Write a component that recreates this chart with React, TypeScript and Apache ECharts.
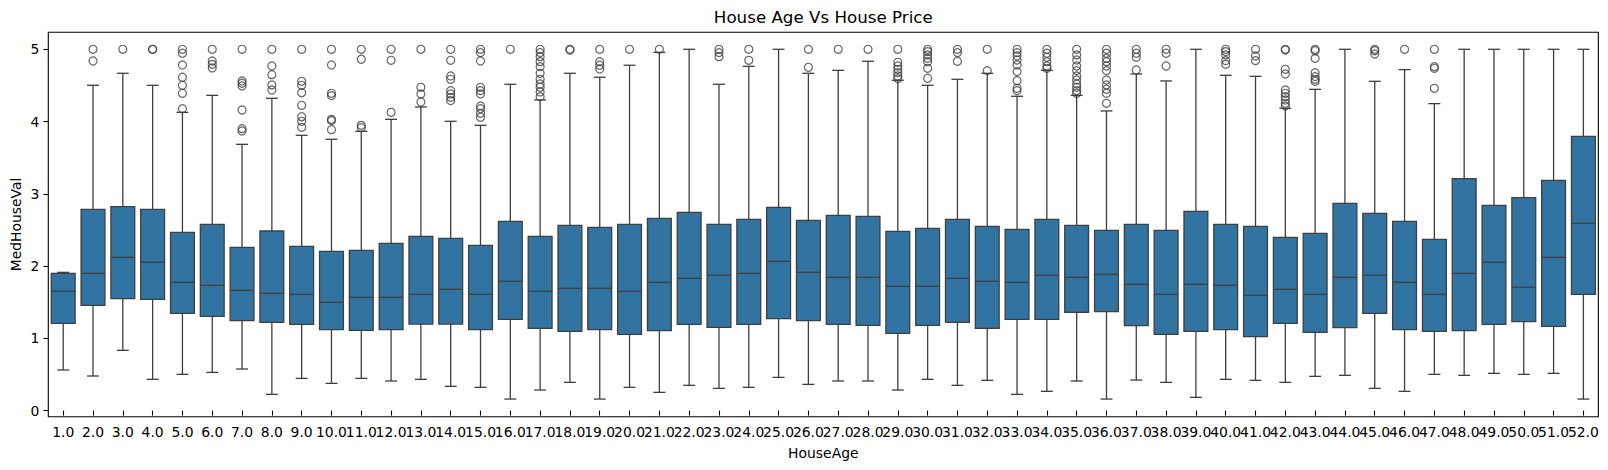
import React, { useEffect, useRef } from "react";
import * as echarts from "echarts";

const categories = Array.from({ length: 52 }, (_, i) => `${i + 1}.0`);

const lowWhisker = [0.563,0.480,0.835,0.434,0.503,0.530,0.577,0.226,0.447,0.378,0.447,0.411,0.434,0.337,0.323,0.161,0.286,0.392,0.161,0.323,0.254,0.351,0.309,0.323,0.461,0.364,0.411,0.411,0.286,0.434,0.351,0.420,0.226,0.268,0.411,0.161,0.424,0.392,0.185,0.434,0.420,0.392,0.475,0.489,0.309,0.268,0.503,0.489,0.517,0.503,0.517,0.161];
const q1 = [1.208,1.458,1.550,1.541,1.347,1.305,1.245,1.222,1.195,1.121,1.112,1.121,1.199,1.199,1.121,1.264,1.139,1.098,1.121,1.056,1.107,1.195,1.153,1.195,1.273,1.245,1.195,1.181,1.070,1.181,1.222,1.139,1.264,1.264,1.361,1.370,1.176,1.056,1.098,1.121,1.024,1.208,1.084,1.149,1.347,1.121,1.098,1.107,1.195,1.232,1.167,1.610];
const medians = [1.651,1.900,2.122,2.053,1.776,1.734,1.665,1.624,1.610,1.499,1.568,1.568,1.610,1.679,1.610,1.790,1.651,1.693,1.693,1.651,1.776,1.831,1.873,1.900,2.066,1.914,1.845,1.845,1.720,1.720,1.831,1.790,1.776,1.873,1.845,1.887,1.748,1.610,1.748,1.734,1.596,1.679,1.610,1.845,1.873,1.776,1.610,1.900,2.053,1.707,2.122,2.592];
const q3 = [1.900,2.786,2.823,2.786,2.468,2.578,2.260,2.486,2.274,2.205,2.219,2.315,2.412,2.385,2.288,2.620,2.412,2.565,2.537,2.578,2.661,2.744,2.578,2.648,2.814,2.634,2.703,2.689,2.482,2.523,2.648,2.551,2.509,2.648,2.565,2.495,2.578,2.495,2.758,2.578,2.551,2.399,2.454,2.869,2.731,2.620,2.371,3.210,2.841,2.947,3.187,3.796];
const highWhisker = [1.914,4.502,4.668,4.502,4.128,4.363,3.685,4.322,3.810,3.755,3.865,4.031,4.202,4.004,3.948,4.516,4.299,4.668,4.613,4.779,4.958,5.0,4.516,4.765,5.0,4.668,4.709,4.834,4.571,4.502,4.585,4.668,4.350,4.709,4.363,4.147,4.659,4.562,5.0,4.640,4.626,4.184,4.446,5.0,4.557,4.719,4.248,5.0,5.0,5.0,5.0,5.0];

const outliers: number[][] = [
  [],
  [5.0, 4.838],
  [5.0],
  [5.0, 5.0],
  [5.0, 4.945, 4.783, 4.613, 4.502, 4.391, 4.179],
  [5.0, 4.838, 4.792, 4.742],
  [5.0, 4.562, 4.530, 4.493, 4.160, 3.902, 3.870],
  [5.0, 4.769, 4.649, 4.507, 4.437],
  [5.0, 4.557, 4.502, 4.400, 4.225, 4.068, 4.004, 3.921],
  [5.0, 4.783, 4.391, 4.359, 4.031, 4.013, 3.888],
  [5.0, 4.862, 3.948, 3.916],
  [5.0, 4.848, 4.128],
  [5.0, 4.474, 4.382, 4.271],
  [5.0, 4.848, 4.631, 4.585, 4.428, 4.382, 4.336, 4.290],
  [5.0, 4.954, 4.838, 4.474, 4.428, 4.382, 4.216, 4.179, 4.114, 4.059],
  [5.0],
  [5.0, 4.954, 4.898, 4.829, 4.760, 4.668, 4.585, 4.520, 4.474, 4.410, 4.345],
  [5.0, 4.99],
  [5.0, 4.829, 4.779, 4.728],
  [5.0],
  [5.0],
  [],
  [5.0, 4.954, 4.898],
  [5.0, 4.848],
  [],
  [5.0, 4.751],
  [5.0],
  [5.0],
  [5.0, 4.820, 4.769, 4.723, 4.677, 4.631, 4.594],
  [5.0, 4.968, 4.922, 4.875, 4.829, 4.737, 4.599],
  [5.0, 4.954, 4.834],
  [5.0, 4.705],
  [5.0, 4.954, 4.908, 4.852, 4.783, 4.691, 4.566, 4.460, 4.428],
  [5.0, 4.945, 4.889, 4.829, 4.769, 4.737],
  [5.0, 4.922, 4.852, 4.769, 4.705, 4.631, 4.576, 4.520, 4.474, 4.428, 4.391],
  [5.0, 4.945, 4.875, 4.829, 4.769, 4.705, 4.576, 4.507, 4.447, 4.391, 4.253],
  [5.0, 4.945, 4.889, 4.714],
  [5.0, 4.945, 4.769],
  [],
  [5.0, 4.968, 4.922, 4.843, 4.792],
  [5.0, 4.908, 4.843],
  [5.0, 4.99, 4.723, 4.659, 4.437, 4.391, 4.345, 4.299, 4.253, 4.216],
  [5.0, 4.98, 4.875, 4.677, 4.622, 4.585, 4.557],
  [],
  [5.0, 4.98, 4.935],
  [5.0],
  [5.0, 4.760, 4.737, 4.460],
  [],
  [],
  [],
  [],
  [],
];

const yTicks = [0, 1, 2, 3, 4, 5];

const BOX_FILL = "#3274a1";
const LINE = "#3f3f3f";
const FONT = "DejaVu Sans";

export default function App() {
  const ref = useRef<HTMLDivElement>(null);
  useEffect(() => {
    document.body.style.margin = "0";
    if (!ref.current) return;
    const chart = echarts.init(ref.current, undefined, { renderer: "svg" });
    const boxData = categories.map((_, i) => [i, lowWhisker[i], q1[i], medians[i], q3[i], highWhisker[i]]);
    const outData: number[][] = [];
    outliers.forEach((vals, i) => vals.forEach((v) => outData.push([i, v])));

    const gridLeft = 48.3, gridTop = 32.3, gridRight = 1598.3, gridBottom = 416.7;

    chart.setOption({
      animation: false,
      grid: {
        left: gridLeft,
        top: gridTop,
        width: gridRight - gridLeft,
        height: gridBottom - gridTop,
        show: true,
        borderColor: "#000",
        borderWidth: 1.1,
        backgroundColor: "transparent",
      },
      xAxis: {
        type: "category",
        data: categories,
        boundaryGap: true,
        axisLine: { show: false },
        axisTick: { show: true, alignWithLabel: true, interval: 0, length: 4.9, lineStyle: { color: "#000", width: 1.1 } },
        axisLabel: { interval: 0, hideOverlap: false, color: "#000", fontSize: 13.9, fontFamily: FONT, margin: 8 },
        splitLine: { show: false },
      },
      yAxis: {
        type: "value",
        min: -0.083,
        max: 5.235,
        axisLine: { show: false },
        axisTick: { show: true, length: 4.9, customValues: yTicks, lineStyle: { color: "#000", width: 1.1 } },
        axisLabel: { color: "#000", fontSize: 13.9, fontFamily: FONT, margin: 9, customValues: yTicks },
        splitLine: { show: false },
      },
      graphic: [
        { type: "text", x: (gridLeft + gridRight) / 2, y: 17, style: { text: "House Age Vs House Price", fontSize: 16.7, fontFamily: FONT, fill: "#000", textAlign: "center", textVerticalAlign: "middle" } },
        { type: "text", x: (gridLeft + gridRight) / 2, y: 452.7, style: { text: "HouseAge", fontSize: 13.9, fontFamily: FONT, fill: "#000", textAlign: "center", textVerticalAlign: "middle" } },
        { type: "text", x: 16, y: (gridTop + gridBottom) / 2, rotation: Math.PI / 2, style: { text: "MedHouseVal", fontSize: 13.9, fontFamily: FONT, fill: "#000", textAlign: "center", textVerticalAlign: "middle" } },
      ],
      series: [
        {
          type: "custom",
          data: boxData,
          encode: { x: 0, y: [1, 2, 3, 4, 5] },
          z: 2,
          renderItem: (params: any, api: any) => {
            const idx = api.value(0);
            const pLow = api.coord([idx, api.value(1)]);
            const pQ1 = api.coord([idx, api.value(2)]);
            const pMed = api.coord([idx, api.value(3)]);
            const pQ3 = api.coord([idx, api.value(4)]);
            const pHigh = api.coord([idx, api.value(5)]);
            const band = api.size([1, 0])[0];
            const x = pMed[0];
            const hw = band * 0.4;
            const cw = hw / 2;
            const ls = { stroke: LINE, lineWidth: 1.3 };
            return {
              type: "group",
              children: [
                { type: "line", shape: { x1: x, y1: pLow[1], x2: x, y2: pQ1[1] }, style: ls },
                { type: "line", shape: { x1: x, y1: pQ3[1], x2: x, y2: pHigh[1] }, style: ls },
                { type: "line", shape: { x1: x - cw, y1: pLow[1], x2: x + cw, y2: pLow[1] }, style: ls },
                { type: "line", shape: { x1: x - cw, y1: pHigh[1], x2: x + cw, y2: pHigh[1] }, style: ls },
                { type: "rect", shape: { x: x - hw, y: pQ3[1], width: hw * 2, height: pQ1[1] - pQ3[1] }, style: { fill: BOX_FILL, stroke: LINE, lineWidth: 1.3 } },
                { type: "line", shape: { x1: x - hw, y1: pMed[1], x2: x + hw, y2: pMed[1] }, style: ls },
              ],
            };
          },
        },
        {
          type: "scatter",
          data: outData,
          symbol: "circle",
          symbolSize: 8,
          z: 3,
          itemStyle: { color: "transparent", borderColor: LINE, borderWidth: 1.2 },
        },
      ],
    });
    return () => chart.dispose();
  }, []);
  return <div ref={ref} style={{ width: 1608, height: 470 }} />;
}
